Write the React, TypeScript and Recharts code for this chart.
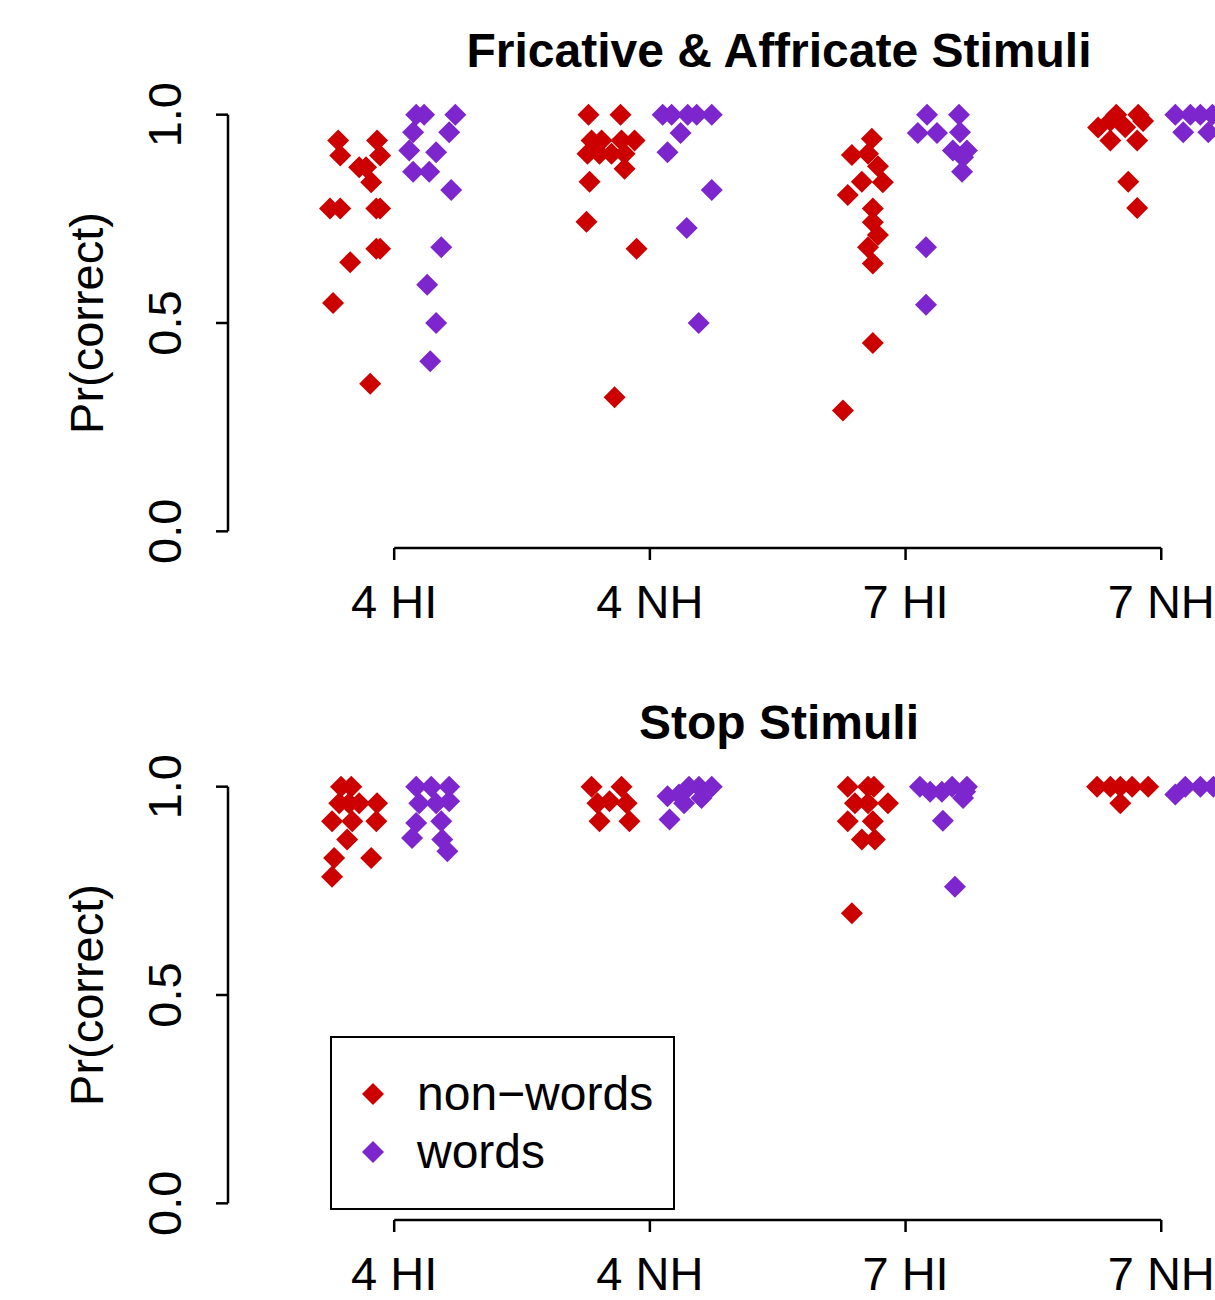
import { ScatterChart, Scatter, XAxis, YAxis, ReferenceLine, Legend } from "recharts";

const groups = ["4 HI", "4 NH", "7 HI", "7 NH"];
const groupTicks = [1, 2, 3, 4];
const yTicks = [0, 0.5, 1];

// [x = group index + jitter, Pr(correct)]
const fricNonwords: [number, number][] = [
  [0.781, 0.938], [0.933, 0.938], [0.789, 0.902], [0.945, 0.902], [0.863, 0.874],
  [0.89, 0.874], [0.91, 0.838], [0.749, 0.775], [0.789, 0.775], [0.93, 0.775],
  [0.945, 0.775], [0.93, 0.678], [0.945, 0.678], [0.828, 0.646], [0.761, 0.548],
  [0.906, 0.354],
  [1.76, 1.0], [1.885, 1.0], [1.772, 0.938], [1.811, 0.938], [1.889, 0.938],
  [1.94, 0.938], [1.756, 0.906], [1.803, 0.906], [1.85, 0.906], [1.901, 0.906],
  [1.901, 0.87], [1.764, 0.839], [1.752, 0.743], [1.948, 0.678], [1.862, 0.322],
  [2.868, 0.942], [2.79, 0.903], [2.853, 0.906], [2.892, 0.876], [2.829, 0.839],
  [2.911, 0.838], [2.774, 0.807], [2.872, 0.775], [2.872, 0.742], [2.892, 0.711],
  [2.853, 0.682], [2.872, 0.643], [2.872, 0.452], [2.755, 0.29],
  [3.753, 0.969], [3.801, 0.985], [3.824, 1.0], [3.859, 0.97], [3.91, 1.0],
  [3.929, 0.985], [3.801, 0.938], [3.906, 0.938], [3.871, 0.839], [3.906, 0.776],
];

const fricWords: [number, number][] = [
  [1.086, 1.0], [1.117, 1.0], [1.239, 1.0], [1.074, 0.958], [1.215, 0.958],
  [1.059, 0.914], [1.164, 0.91], [1.074, 0.863], [1.137, 0.863], [1.223, 0.819],
  [1.184, 0.682], [1.129, 0.592], [1.164, 0.5], [1.141, 0.408],
  [2.05, 1.0], [2.085, 1.0], [2.148, 1.0], [2.183, 1.0], [2.242, 1.0],
  [2.12, 0.956], [2.069, 0.91], [2.242, 0.819], [2.144, 0.728], [2.191, 0.5],
  [3.084, 1.0], [3.209, 1.0], [3.048, 0.956], [3.123, 0.956], [3.213, 0.958],
  [3.185, 0.914], [3.24, 0.914], [3.225, 0.898], [3.221, 0.863], [3.08, 0.682],
  [3.08, 0.544],
  [4.055, 1.0], [4.114, 1.0], [4.153, 1.0], [4.2, 1.0], [4.086, 0.958],
  [4.184, 0.958],
];

const stopNonwords: [number, number][] = [
  [0.792, 1.0], [0.832, 1.0], [0.785, 0.96], [0.824, 0.96], [0.863, 0.96],
  [0.933, 0.96], [0.757, 0.917], [0.836, 0.917], [0.93, 0.917], [0.816, 0.873],
  [0.765, 0.829], [0.91, 0.829], [0.757, 0.784],
  [1.772, 1.0], [1.889, 1.0], [1.795, 0.96], [1.842, 0.965], [1.909, 0.96],
  [1.803, 0.917], [1.92, 0.917],
  [2.774, 1.0], [2.853, 1.0], [2.876, 1.0], [2.802, 0.96], [2.853, 0.96],
  [2.931, 0.96], [2.774, 0.917], [2.872, 0.917], [2.829, 0.873], [2.88, 0.873],
  [2.79, 0.696],
  [3.749, 1.0], [3.801, 1.0], [3.84, 1.0], [3.886, 1.0], [3.949, 1.0],
  [3.84, 0.96],
];

const stopWords: [number, number][] = [
  [1.086, 1.0], [1.145, 1.0], [1.215, 1.0], [1.098, 0.96], [1.164, 0.96],
  [1.215, 0.965], [1.086, 0.913], [1.184, 0.917], [1.07, 0.877], [1.188, 0.873],
  [1.208, 0.845],
  [2.069, 0.977], [2.114, 0.981], [2.153, 1.0], [2.192, 1.0], [2.242, 1.0],
  [2.202, 0.973], [2.134, 0.96], [2.077, 0.921],
  [3.056, 1.0], [3.096, 0.988], [3.142, 0.988], [3.182, 1.0], [3.233, 0.988],
  [3.24, 1.0], [3.225, 0.973], [3.146, 0.918], [3.193, 0.76],
  [4.055, 0.981], [4.094, 1.0], [4.153, 1.0], [4.204, 1.0],
];

const RED = "#CD0000";
const PURPLE = "#7D26CD";
const FONT = "'Liberation Sans', Arial, Helvetica, sans-serif";
const XMIN = 0.35;
const XMAX = 4.66;
const YMIN = -0.04;
const YMAX = 1.04;

const toPoints = (arr: [number, number][]) => arr.map(([x, y]) => ({ x, y }));

function Diamond(props: any) {
  const { cx, cy, fill } = props;
  const r = 11;
  return (
    <polygon
      points={`${cx},${cy - r} ${cx + r},${cy} ${cx},${cy + r} ${cx - r},${cy}`}
      fill={fill}
    />
  );
}

function YTick({ x, y, payload }: any) {
  return (
    <text
      x={x}
      y={y}
      transform={`rotate(-90 ${x} ${y})`}
      textAnchor="middle"
      fontSize={47}
      fontFamily={FONT}
      fill="#000"
    >
      {Number(payload.value).toFixed(1)}
    </text>
  );
}

function XTick({ x, y, payload }: any) {
  return (
    <text x={x} y={y} textAnchor="middle" fontSize={47} fontFamily={FONT} fill="#000">
      {groups[payload.value - 1]}
    </text>
  );
}

function YLabel({ viewBox }: any) {
  const cx = viewBox.x + 103;
  const cy = viewBox.y + viewBox.height / 2;
  return (
    <text
      x={cx}
      y={cy}
      transform={`rotate(-90 ${cx} ${cy})`}
      textAnchor="middle"
      fontSize={47}
      fontFamily={FONT}
      fill="#000"
    >
      Pr(correct)
    </text>
  );
}

function LegendBox({ payload }: any) {
  return (
    <div
      style={{
        position: "relative",
        width: 345,
        height: 174,
        border: "2px solid #000",
        boxSizing: "border-box",
        background: "#fff",
        fontFamily: FONT,
      }}
    >
      {(payload || []).map((p: any, i: number) => (
        <div
          key={p.value}
          style={{ position: "absolute", left: 0, top: 56 + i * 58 - 24, height: 48, width: "100%" }}
        >
          <svg width={22} height={22} style={{ position: "absolute", left: 30, top: 13 }}>
            <polygon points="11,0 22,11 11,22 0,11" fill={p.color} />
          </svg>
          <span
            style={{
              position: "absolute",
              left: 85,
              top: 0,
              fontSize: 48,
              lineHeight: "48px",
              color: "#000",
              whiteSpace: "nowrap",
            }}
          >
            {p.value}
          </span>
        </div>
      ))}
    </div>
  );
}

function Panel({
  title,
  nonwords,
  words,
  top,
  showLegend,
}: {
  title: string;
  nonwords: [number, number][];
  words: [number, number][];
  top: number;
  showLegend?: boolean;
}) {
  return (
    <div style={{ position: "absolute", left: 0, top, width: 1400, height: 673 }}>
      <div
        style={{
          position: "absolute",
          left: 228,
          width: 1102,
          top: 27,
          textAlign: "center",
          fontSize: 48,
          lineHeight: "48px",
          fontWeight: "bold",
          fontFamily: FONT,
        }}
      >
        {title}
      </div>
      <ScatterChart width={1400} height={673} margin={{ top: 98, right: 70, bottom: 45, left: 0 }}>
        <XAxis
          type="number"
          dataKey="x"
          domain={[XMIN, XMAX]}
          ticks={groupTicks}
          allowDataOverflow
          axisLine={false}
          tickLine={{ stroke: "#000", strokeWidth: 2.5 }}
          tickSize={12}
          tickMargin={58}
          height={80}
          tick={<XTick />}
          interval={0}
        />
        <YAxis
          type="number"
          dataKey="y"
          domain={[YMIN, YMAX]}
          ticks={yTicks}
          allowDataOverflow
          axisLine={false}
          tickLine={{ stroke: "#000", strokeWidth: 2.5 }}
          tickSize={12}
          tickMargin={35}
          width={228}
          tick={<YTick />}
          interval={0}
          label={{ content: (p: any) => <YLabel {...p} /> }}
        />
        <ReferenceLine
          segment={[{ x: XMIN, y: 0 }, { x: XMIN, y: 1 }]}
          stroke="#000"
          strokeWidth={2.5}
          ifOverflow="visible"
        />
        <ReferenceLine
          segment={[{ x: 1, y: YMIN }, { x: 4, y: YMIN }]}
          stroke="#000"
          strokeWidth={2.5}
          ifOverflow="visible"
        />
        <Scatter
          name="non−words"
          data={toPoints(nonwords)}
          fill={RED}
          shape={(p: any) => <Diamond {...p} />}
          isAnimationActive={false}
        />
        <Scatter
          name="words"
          data={toPoints(words)}
          fill={PURPLE}
          shape={(p: any) => <Diamond {...p} />}
          isAnimationActive={false}
        />
        {showLegend && (
          <Legend
            layout="horizontal"
            verticalAlign="middle"
            align="center"
            wrapperStyle={{ left: 330, top: 1036 - 672, width: 345, height: 174 }}
            content={(p: any) => <LegendBox {...p} />}
          />
        )}
      </ScatterChart>
    </div>
  );
}

export default function App() {
  return (
    <div
      style={{
        position: "absolute",
        left: 0,
        top: 0,
        width: 1215,
        height: 1300,
        overflow: "hidden",
        background: "#fff",
        fontFamily: FONT,
      }}
    >
      <Panel title="Fricative & Affricate Stimuli" nonwords={fricNonwords} words={fricWords} top={0} />
      <Panel title="Stop Stimuli" nonwords={stopNonwords} words={stopWords} top={672} showLegend />
    </div>
  );
}
